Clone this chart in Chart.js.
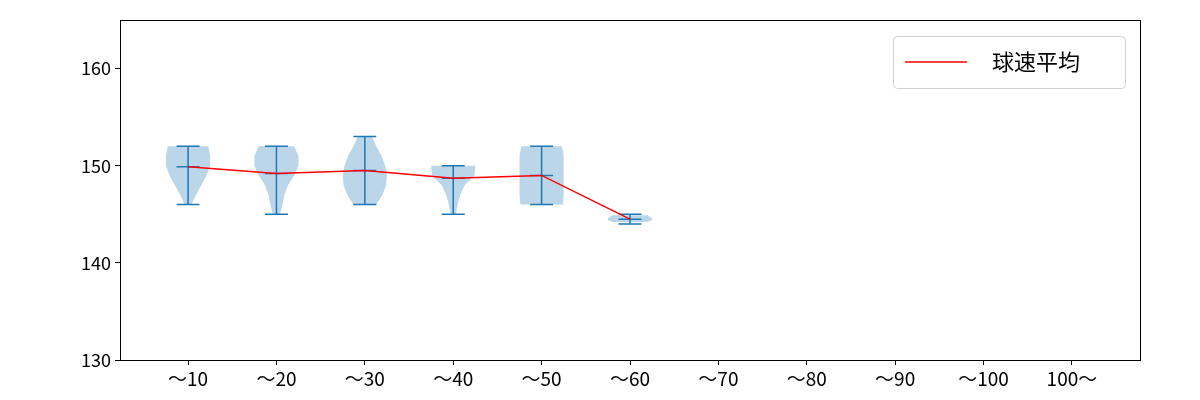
<!DOCTYPE html>
<html>
<head>
<meta charset="utf-8">
<script src="https://cdn.jsdelivr.net/npm/chart.js@4.4.0/dist/chart.umd.min.js"></script>
<style>
  body { margin: 0; background: #fff; }
  #wrap { width: 1200px; height: 400px; }
</style>
</head>
<body>
<div id="wrap"><canvas id="chart"></canvas></div>
<script>
// categories (pitch count bins)
const categories = ['～10', '～20', '～30', '～40', '～50', '～60', '～70', '～80', '～90', '～100', '100～'];
// per-bin speed stats (only first six bins have data)
const mins = [146, 145, 146, 145, 146, 144];
const maxs = [152, 152, 153, 150, 152, 145];
const means = [149.9, 149.2, 149.5, 148.7, 149.0, 144.5];
// violin outlines: [speed, half-width in category units]
const profiles = [
  [[146, 0.04], [147, 0.09], [148, 0.15], [149, 0.21], [150, 0.25], [151, 0.25], [152, 0.23]],
  [[145, 0.04], [146, 0.07], [147, 0.09], [148, 0.13], [149, 0.2], [150, 0.25], [151, 0.25], [152, 0.2]],
  [[146, 0.13], [147, 0.2], [148, 0.24], [149, 0.25], [150, 0.23], [151, 0.19], [152, 0.13], [153, 0.08]],
  [[145, 0.03], [146, 0.05], [147, 0.08], [148, 0.13], [149, 0.24], [150, 0.25]],
  [[146, 0.24], [147, 0.25], [148, 0.25], [149, 0.25], [150, 0.25], [151, 0.25], [152, 0.23]],
  [[144.2, 0.2], [144.4, 0.25], [144.6, 0.25], [144.9, 0.2]]
];
const legendLabel = '球速平均';
const blue = '#1f77b4';

const violinPlugin = {
  id: 'violins',
  beforeDatasetsDraw(chart) {
    const { ctx, scales: { x, y } } = chart;
    ctx.save();
    profiles.forEach((prof, i) => {
      const pos = i + 1;
      ctx.beginPath();
      prof.forEach(([v, w], k) => {
        const px = x.getPixelForValue(pos + w), py = y.getPixelForValue(v);
        k ? ctx.lineTo(px, py) : ctx.moveTo(px, py);
      });
      for (let k = prof.length - 1; k >= 0; k--) {
        const [v, w] = prof[k];
        ctx.lineTo(x.getPixelForValue(pos - w), y.getPixelForValue(v));
      }
      ctx.closePath();
      ctx.fillStyle = 'rgba(31,119,180,0.3)';
      ctx.fill();

      ctx.strokeStyle = blue;
      ctx.lineWidth = 1.5;
      const cx = x.getPixelForValue(pos);
      const cap = x.getPixelForValue(pos + 0.13) - cx;
      ctx.beginPath();
      ctx.moveTo(cx, y.getPixelForValue(mins[i]));
      ctx.lineTo(cx, y.getPixelForValue(maxs[i]));
      [mins[i], maxs[i], means[i]].forEach(v => {
        const py = y.getPixelForValue(v);
        ctx.moveTo(cx - cap, py);
        ctx.lineTo(cx + cap, py);
      });
      ctx.stroke();
    });
    ctx.restore();
  },
  afterDraw(chart) {
    const { ctx, chartArea: a } = chart;
    ctx.save();
    // frame
    ctx.strokeStyle = '#000';
    ctx.lineWidth = 1;
    ctx.strokeRect(a.left + 0.5, a.top + 0.5, a.right - a.left, a.bottom - a.top);
    // legend
    ctx.font = '22px "Noto Sans CJK JP"';
    const tw = ctx.measureText(legendLabel).width;
    const lx = 893, ly = 36;
    const w = 1125 - lx, h = 52;
    ctx.fillStyle = 'rgba(255,255,255,0.8)';
    ctx.strokeStyle = '#d0d0d0';
    ctx.beginPath();
    ctx.roundRect(lx + 0.5, ly + 0.5, w, h, 4);
    ctx.fill();
    ctx.stroke();
    ctx.strokeStyle = 'red';
    ctx.lineWidth = 1.5;
    ctx.beginPath();
    ctx.moveTo(lx + 12, ly + h / 2);
    ctx.lineTo(lx + 74, ly + h / 2);
    ctx.stroke();
    ctx.fillStyle = '#000';
    ctx.textBaseline = 'middle';
    ctx.fillText(legendLabel, lx + 99, ly + h / 2);
    ctx.restore();
  }
};

new Chart(document.getElementById('chart'), {
  type: 'scatter',
  data: {
    datasets: [{
      label: legendLabel,
      data: means.map((m, i) => ({ x: i + 1, y: m })),
      showLine: true,
      borderColor: 'red',
      borderWidth: 1.5,
      pointRadius: 0
    }]
  },
  plugins: [violinPlugin],
  options: {
    responsive: true,
    maintainAspectRatio: false,
    animation: false,
    layout: { padding: { left: 0, right: 60, top: 20, bottom: 0 } },
    plugins: { legend: { display: false }, tooltip: { enabled: false } },
    scales: {
      x: {
        type: 'linear', min: 0.23, max: 11.77,
        afterBuildTicks(s) { s.ticks = categories.map((c, i) => ({ value: i + 1 })); },
        afterFit(s) { s.height = 40; },
        grid: { drawOnChartArea: false, drawTicks: true, tickLength: 5, color: '#000' },
        border: { color: '#000', width: 1 },
        ticks: {
          color: '#000', font: { size: 19, family: '"Noto Sans CJK JP"' }, padding: 2,
          callback: v => categories[v - 1] || ''
        }
      },
      y: {
        min: 130, max: 165,
        afterBuildTicks(s) { s.ticks = [130, 140, 150, 160].map(v => ({ value: v })); },
        afterFit(s) { s.width = 120; },
        grid: { drawOnChartArea: false, drawTicks: true, tickLength: 5, color: '#000' },
        border: { color: '#000', width: 1 },
        ticks: { color: '#000', font: { size: 18, family: '"Noto Sans CJK JP"' }, padding: 4 }
      }
    }
  },
});
</script>
</body>
</html>
